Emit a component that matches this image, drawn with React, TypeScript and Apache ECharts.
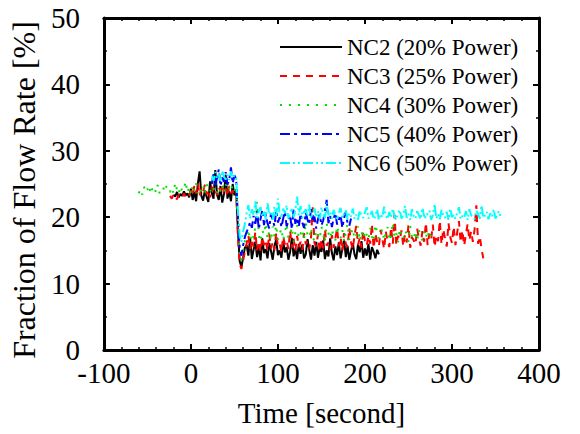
import React, { useEffect, useRef } from "react";
import * as echarts from "echarts";

const STEP = 2;
const seriesNames = [
  "NC2 (20% Power)",
  "NC3 (25% Power)",
  "NC4 (30% Power)",
  "NC5 (40% Power)",
  "NC6 (50% Power)",
];
const startTimes = [-20, -24, -60, 24, 24];

const nc2 = [
  23.4, 23.1, 23.8, 23.0, 23.5, 23.2, 23.9, 23.3, 23.6, 23.0,
  24.3, 22.6, 23.8, 22.4, 25.1, 26.9, 23.2, 22.5, 24.0, 23.1, 22.3, 25.4, 23.6, 22.8, 27.1, 23.4, 22.6, 24.7, 22.2, 23.5, 26.4, 22.8, 23.9, 22.4, 25.0, 23.3, 24.1,
  18.0, 13.4, 12.5, 13.9, 15.4,
  15.8, 14.2, 16.9, 13.7, 15.1, 16.3, 14.0, 15.6, 13.5, 16.8,
  14.6, 15.2, 13.8, 16.1, 14.9, 13.6, 15.7, 16.6, 14.3, 15.0,
  13.9, 16.4, 14.7, 15.5, 13.6, 14.8, 16.9, 14.1, 15.3, 13.7,
  16.0, 14.5, 15.9, 13.8, 14.4, 16.7, 15.1, 13.6, 15.8, 14.2,
  16.3, 13.9, 15.4, 14.8, 16.5, 13.7, 15.0, 14.1, 16.8, 14.6,
  13.5, 15.6, 14.3, 16.2, 13.8, 15.2, 16.6, 14.0, 15.7, 13.6,
  14.9, 16.1, 14.4, 13.7, 15.9, 14.7, 16.4, 13.9, 15.3, 14.2,
  16.0, 13.6, 15.5, 14.8, 13.8, 15.1, 14.4,
];

const nc3 = [
  23.2, 22.8, 23.5, 23.0, 22.7, 23.4, 23.1, 22.9, 23.6, 23.0, 22.8, 23.3,
  24.0, 23.3, 24.8, 23.6, 25.1, 23.2, 24.4, 23.8, 24.9, 23.4, 24.2, 23.0, 24.6, 23.7, 24.1, 23.3, 24.5, 23.9, 25.0, 23.5, 24.3, 23.1, 24.7, 23.6, 24.0, 23.4, 24.2,
  17.0, 13.0, 12.2, 13.5, 14.8,
  16.0, 17.3, 15.2, 16.7, 15.5, 17.8, 15.0, 16.4, 14.8, 17.0,
  15.8, 16.6, 14.9, 17.5, 15.3, 16.2, 15.0, 17.7, 15.6, 16.0,
  14.7, 17.1, 15.9, 16.5, 15.2, 18.0, 15.4, 16.8, 14.9, 17.2,
  15.5, 16.3, 15.1, 17.6, 15.9, 16.4, 15.2, 16.9, 21.5, 16.1,
  15.6, 17.4, 14.8, 16.7, 15.3, 18.2, 15.7, 16.2, 15.0, 17.3,
  15.4, 16.8, 18.3, 15.6, 17.0, 14.9, 17.6, 16.0, 15.5, 18.4,
  16.2, 15.1, 17.3, 18.7, 15.8, 16.9, 15.4, 18.0, 16.5, 15.7,
  17.2, 16.0, 19.0, 15.3, 17.5, 16.3, 15.6, 18.1, 16.7, 15.2,
  17.8, 16.4, 15.5, 18.5, 16.0, 20.4, 15.8, 17.2, 16.6, 18.0,
  15.6, 17.4, 16.2, 18.8, 15.4, 17.0, 16.5, 15.9, 18.3, 16.8,
  15.7, 17.9, 16.3, 19.2, 15.8, 17.5, 16.6, 18.9, 15.5, 17.3,
  16.4, 19.5, 15.9, 18.2, 16.8, 15.6, 19.1, 17.0, 16.1, 18.6,
  15.8, 17.7, 19.4, 16.2, 18.0, 15.7, 17.4, 19.0, 16.5, 17.9,
  16.3, 18.2, 21.8, 16.0, 17.1, 15.2, 13.8,
];

const nc4 = [
  23.6, 24.2, 23.4, 24.6, 23.8, 24.3, 23.5, 24.8, 23.9, 24.4, 23.7, 24.9, 23.6, 24.1, 24.5, 23.8, 24.7, 23.9,
  23.8, 24.5, 23.6, 25.2, 24.1, 23.5, 24.7, 23.9, 24.3, 25.4,
  23.7, 24.6, 23.4, 24.9, 24.0, 25.1, 23.6, 24.4, 23.9, 24.8,
  23.5, 25.0, 24.2, 23.8, 24.6, 24.1, 25.3, 23.7, 24.5, 23.9,
  24.8, 23.6, 25.1, 24.0, 24.4, 23.8, 24.9, 24.2, 23.9,
  19.5, 14.5, 13.5, 15.0, 16.4,
  17.0, 18.2, 16.5, 17.6, 16.9, 18.5, 22.3, 17.2, 16.3, 18.0,
  17.4, 19.1, 16.7, 17.9, 16.4, 18.6, 17.1, 18.8, 16.6, 17.5,
  18.3, 16.5, 17.8, 19.0, 16.9, 17.4, 18.5, 16.3, 17.7, 18.8,
  16.8, 17.5, 18.2, 16.6, 19.3, 17.2, 16.9, 18.4, 17.0, 16.4,
  18.0, 17.3, 16.7, 18.6, 17.4, 16.2, 19.1, 17.6, 16.8, 18.2,
  17.1, 16.5, 18.7, 17.4, 16.9, 18.1, 16.3, 17.8, 19.0, 16.6,
  17.5, 18.3, 16.7, 17.2, 18.6, 16.4, 17.9, 16.8, 18.0, 17.3,
  16.6, 18.4, 17.1, 16.3, 18.9, 17.6, 16.8, 17.4, 18.2, 16.5,
  17.7, 18.5, 16.4, 17.2, 19.2, 16.9, 17.6, 16.2, 18.3, 17.0,
  16.7, 18.0, 17.5, 16.3, 18.7, 17.1, 16.6, 17.9, 16.4, 18.1,
  17.2, 16.5, 17.8, 16.9, 18.0, 16.7, 17.4,
];

const nc5 = [
  25.0, 26.5, 24.8, 25.9, 27.2, 24.7, 26.0, 25.3, 26.8, 24.9, 25.6, 27.5, 25.1, 26.3, 25.8,
  20.0, 15.5, 14.2, 15.8, 17.0, 17.8, 18.4,
  19.3, 18.4, 20.2, 19.0, 20.9, 18.2, 19.7, 21.1, 18.8, 20.4,
  19.1, 18.3, 20.6, 19.5, 18.7, 21.0, 19.2, 20.0, 18.5, 19.8,
  20.8, 18.6, 19.4, 20.3, 18.2, 21.3, 19.0, 19.9, 18.6, 20.5,
  19.2, 18.4, 20.7, 19.6, 18.9, 21.2, 19.3, 20.1, 18.3, 19.7,
  20.4, 18.8, 19.5, 21.0, 22.6, 19.1, 20.2, 18.5, 19.8, 20.6,
  18.9, 19.6, 20.3, 18.4, 19.9, 20.8, 19.1, 18.7, 19.8,
];

const nc6 = [
  26.2, 25.5, 26.8, 25.8, 26.5, 25.3, 27.0, 26.1, 25.7, 26.4, 25.6, 26.9, 25.9, 26.3, 25.8,
  21.0, 17.2, 16.3, 17.8, 19.0,
  20.6, 21.8, 19.8, 21.2, 20.3, 22.4, 19.9, 20.9, 21.5, 20.1,
  21.0, 19.7, 22.1, 20.4, 20.9, 19.6, 21.6, 20.2, 22.8, 20.5,
  19.9, 21.3, 20.6, 21.8, 19.8, 20.7, 21.4, 20.0, 21.1, 23.1,
  20.3, 21.7, 19.9, 20.8, 21.2, 20.1, 21.9, 19.8, 20.6, 21.3,
  20.0, 20.9, 19.7, 21.5, 20.4, 19.9, 22.2, 20.3, 20.8, 19.8,
  21.1, 20.2, 19.6, 20.7, 21.4, 19.9, 20.5, 21.0, 19.7, 20.6,
  20.1, 21.3, 19.8, 20.4, 19.6, 21.0, 20.2, 19.9, 20.7, 21.5,
  19.8, 20.3, 20.9, 19.7, 20.1, 21.2, 19.6, 20.5, 20.0, 21.6,
  20.2, 19.7, 20.8, 19.9, 21.3, 20.1, 19.6, 20.6, 21.1, 19.8,
  20.4, 21.7, 19.9, 20.5, 19.6, 21.2, 20.1, 19.8, 20.9, 20.3,
  19.7, 21.4, 20.2, 19.9, 20.6, 21.0, 19.6, 20.3, 22.0, 19.8,
  20.5, 19.7, 21.1, 20.2, 19.9, 20.8, 19.6, 21.3, 20.0, 20.4,
  19.8, 20.7, 21.5, 19.7, 20.2, 19.9, 20.9, 19.6, 21.2, 20.3,
  20.0, 19.7, 21.0, 20.5, 19.8, 21.8, 19.9, 20.3, 20.8, 19.7,
  20.6, 20.1, 21.2, 19.8, 20.4, 20.9, 20.0,
];

const allValues = [nc2, nc3, nc4, nc5, nc6];
const colors = ["#000000", "#ff0000", "#00e000", "#0000ff", "#00ffff"];
const dashes: any[] = ["solid", [7, 6], [2, 7], [10, 4, 3, 4], [10, 3, 2, 3, 2, 3]];
const legendDash: any[] = [null, [7, 6], [2, 7], [10, 4, 3, 4], [10, 3, 2, 3, 2, 3]];

const xTickLabels = { min: -100, max: 400, interval: 100 };
const yTickLabels = { min: 0, max: 50, interval: 10 };

const FONT = "Liberation Serif";

export default function App() {
  const ref = useRef<HTMLDivElement>(null);

  useEffect(() => {
    if (!ref.current) return;
    const chart = echarts.init(ref.current, undefined, { renderer: "svg" });

    const axisCommon = {
      axisLine: { show: true, onZero: false, lineStyle: { color: "#000", width: 3 } },
      axisTick: { show: true, inside: true, length: 6, lineStyle: { color: "#000", width: 2 } },
      splitLine: { show: false },
      minorSplitLine: { show: false },
    };

    const series = allValues.map((vals, si) => ({
      name: seriesNames[si],
      type: "line",
      xAxisIndex: 0,
      yAxisIndex: 0,
      symbol: "none",
      showSymbol: false,
      data: vals.map((v, i) => [startTimes[si] + i * STEP, v]),
      lineStyle: { color: colors[si], width: 2, type: dashes[si] },
      itemStyle: { color: colors[si] },
    }));

    // legend drawn as graphic rows (line sample + label)
    const legendGraphics: any[] = [];
    seriesNames.forEach((name, i) => {
      const cy = 47 + i * 29;
      legendGraphics.push({
        type: "line",
        shape: { x1: 280, y1: cy, x2: 342, y2: cy },
        style: { stroke: colors[i], lineWidth: 2, lineDash: legendDash[i] },
        silent: true,
      });
      legendGraphics.push({
        type: "text",
        x: 347,
        y: cy,
        style: {
          text: name,
          font: "23px " + FONT,
          fill: "#000",
          textAlign: "left",
          verticalAlign: "middle",
        },
        silent: true,
      });
    });

    chart.setOption({
      animation: false,
      grid: { left: 96, right: 41, top: 18, bottom: 84, containLabel: false },
      xAxis: [
        {
          type: "value",
          position: "bottom",
          ...xTickLabels,
          ...axisCommon,
          minorTick: { show: true, splitNumber: 5, length: 3, lineStyle: { color: "#000", width: 1.5 } },
          axisLabel: { color: "#000", fontFamily: FONT, fontSize: 29, margin: 8 },
          name: "Time [second]",
          nameLocation: "middle",
          nameGap: 48,
          nameTextStyle: { color: "#000", fontFamily: FONT, fontSize: 29 },
        },
        {
          type: "value",
          position: "top",
          ...xTickLabels,
          ...axisCommon,
          minorTick: { show: true, splitNumber: 5, length: 3, lineStyle: { color: "#000", width: 1.5 } },
          axisLabel: { show: false },
        },
      ],
      yAxis: [
        {
          type: "value",
          position: "left",
          ...yTickLabels,
          ...axisCommon,
          minorTick: { show: true, splitNumber: 2, length: 3, lineStyle: { color: "#000", width: 1.5 } },
          axisLabel: { color: "#000", fontFamily: FONT, fontSize: 29, margin: 24 },
          name: "Fraction of Flow Rate [%]",
          nameLocation: "middle",
          nameGap: 54,
          nameTextStyle: { color: "#000", fontFamily: FONT, fontSize: 32, padding: [0, 12, 0, 0] },
        },
        {
          type: "value",
          position: "right",
          ...yTickLabels,
          ...axisCommon,
          minorTick: { show: true, splitNumber: 2, length: 3, lineStyle: { color: "#000", width: 1.5 } },
          axisLabel: { show: false },
        },
      ],
      graphic: legendGraphics,
      series,
    });

    return () => chart.dispose();
  }, []);

  return (
    <div
      ref={ref}
      style={{ position: "fixed", left: 0, top: 0, width: 580, height: 434, background: "#fff" }}
    />
  );
}
